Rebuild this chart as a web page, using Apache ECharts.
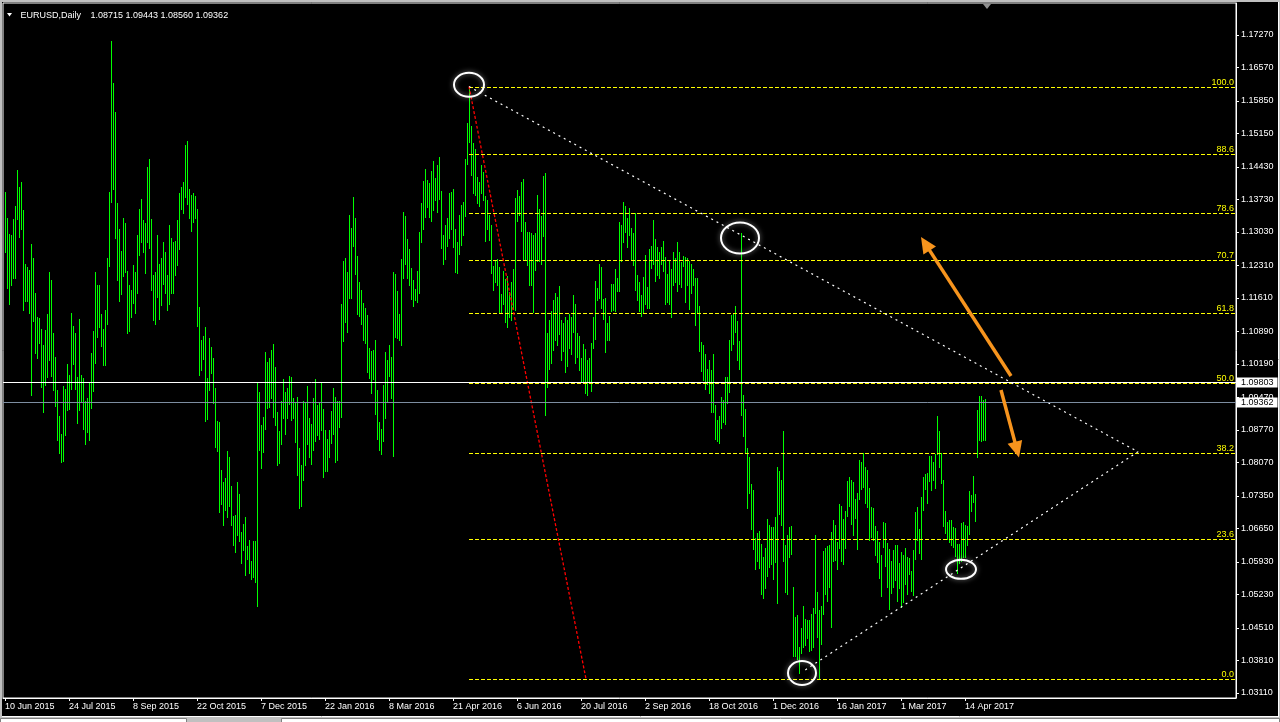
<!DOCTYPE html>
<html><head><meta charset="utf-8">
<script src="https://cdn.jsdelivr.net/npm/echarts@6/dist/echarts.min.js"></script>
<style>html,body{margin:0;padding:0;background:#000;overflow:hidden}#c{width:1280px;height:722px}</style>
</head><body><div id="c"></div>
<script>
// ---- chart values ----
const symbolTitle = 'EURUSD,Daily';
const lastOHLC = ['1.08715', '1.09443', '1.08560', '1.09362'];
const dateTickIdx = [0, 32, 64, 96, 128, 160, 192, 224, 256, 288, 320, 352, 384, 416, 448, 480];
const dateTickLabels = ['10 Jun 2015', '24 Jul 2015', '8 Sep 2015', '22 Oct 2015', '7 Dec 2015', '22 Jan 2016', '8 Mar 2016', '21 Apr 2016', '6 Jun 2016', '20 Jul 2016', '2 Sep 2016', '18 Oct 2016', '1 Dec 2016', '16 Jan 2017', '1 Mar 2017', '14 Apr 2017'];
const priceTicks = [1.17270, 1.16570, 1.15850, 1.15150, 1.14430, 1.13730, 1.13030, 1.12310, 1.11610, 1.10890, 1.10190, 1.09470, 1.08770, 1.08070, 1.07350, 1.06650, 1.05930, 1.05230, 1.04510, 1.03810, 1.03110];

const barHigh = [
1.1389,1.1333,1.1298,1.1296,1.1332,1.1359,1.1437,1.1399,1.1411,1.1350,
1.1235,1.1228,1.1221,1.1278,1.1246,1.1172,1.1121,1.1119,1.1095,1.1060,
1.1093,1.1126,1.1216,1.1199,1.1085,1.1035,1.0964,1.0908,1.0869,1.0971,
1.0966,1.1018,1.0996,1.1129,1.1100,1.1086,1.0991,1.1115,1.0996,1.0988,
1.0939,1.0945,1.0978,1.1042,1.1089,1.1216,1.1190,1.1190,1.1126,1.1095,
1.1136,1.1246,1.1390,1.1715,1.1624,1.1562,1.1366,1.1310,1.1263,1.1333,
1.1322,1.1219,1.1190,1.1179,1.1231,1.1218,1.1297,1.1352,1.1375,1.1329,
1.1322,1.1442,1.1461,1.1332,1.1210,1.1216,1.1297,1.1235,1.1248,1.1282,
1.1261,1.1210,1.1318,1.1291,1.1281,1.1284,1.1328,1.1388,1.1399,1.1411,
1.1491,1.1498,1.1396,1.1382,1.1388,1.1380,1.1353,1.1142,1.1070,1.1080,
1.1098,1.0988,1.1074,1.1056,1.1031,1.0968,1.0897,1.0895,1.0790,1.0764,
1.0773,1.0831,1.0818,1.0757,1.0692,1.0693,1.0764,1.0739,1.0657,1.0674,
1.0689,1.0627,1.0640,1.0594,1.0637,1.0637,1.0979,1.0958,1.0887,1.0904,
1.1044,1.1024,1.1032,1.1050,1.1062,1.1012,1.0915,1.0874,1.0940,1.0987,
1.0959,1.0968,1.0994,1.0992,1.0945,1.0938,1.0947,1.0839,1.0802,1.0940,
1.0935,1.0971,1.0903,1.0889,1.0945,1.0987,1.0930,1.0937,1.0977,1.0922,
1.0877,1.0858,1.0877,1.0918,1.0968,1.0949,1.0939,1.0939,1.1147,1.1240,
1.1246,1.1216,1.1340,1.1312,1.1378,1.1334,1.1251,1.1195,1.1178,1.1151,
1.1140,1.1125,1.1054,1.1047,1.1050,1.1070,1.0964,1.0895,1.0880,1.0973,
1.1044,1.1027,1.1059,1.1035,1.1218,1.1212,1.1177,1.1126,1.1244,1.1345,
1.1338,1.1287,1.1267,1.1225,1.1199,1.1180,1.1220,1.1304,1.1366,1.1413,
1.1439,1.1414,1.1408,1.1434,1.1455,1.1420,1.1448,1.1464,1.1392,1.1296,
1.1319,1.1334,1.1386,1.1390,1.1396,1.1310,1.1281,1.1339,1.1362,1.1368,
1.1460,1.1538,1.1616,1.1532,1.1495,1.1481,1.1422,1.1411,1.1448,1.1433,
1.1381,1.1372,1.1340,1.1317,1.1230,1.1241,1.1244,1.1228,1.1169,1.1219,
1.1202,1.1209,1.1174,1.1195,1.1223,1.1376,1.1393,1.1381,1.1410,1.1418,
1.1324,1.1304,1.1302,1.1301,1.1296,1.1300,1.1382,1.1352,1.1337,1.1423,
1.1429,1.1085,1.1113,1.1132,1.1156,1.1171,1.1163,1.1187,1.1114,1.1108,
1.1121,1.1114,1.1127,1.1120,1.1167,1.1149,1.1086,1.1080,1.1031,1.1061,
1.1052,1.1027,1.1031,1.1065,1.1121,1.1198,1.1183,1.1235,1.1228,1.1158,
1.1162,1.1107,1.1123,1.1192,1.1192,1.1223,1.1204,1.1324,1.1317,1.1368,
1.1359,1.1333,1.1355,1.1312,1.1301,1.1343,1.1210,1.1195,1.1167,1.1207,
1.1253,1.1184,1.1267,1.1272,1.1328,1.1287,1.1270,1.1261,1.1270,1.1284,
1.1250,1.1213,1.1240,1.1224,1.1259,1.1246,1.1281,1.1261,1.1238,1.1252,
1.1249,1.1246,1.1241,1.1235,1.1224,1.1204,1.1204,1.1143,1.1067,1.1059,
1.1040,1.1009,1.1027,1.1006,1.1040,1.0930,1.0899,1.0907,1.0947,1.0942,
1.0992,1.0990,1.1070,1.1124,1.1129,1.1143,1.1111,1.1068,1.1301,1.0952,
1.0922,1.0839,1.0818,1.0760,1.0747,1.0644,1.0656,1.0659,1.0631,1.0604,
1.0624,1.0686,1.0673,1.0669,1.0669,1.0689,1.0797,1.0789,1.0769,1.0875,
1.0630,1.0652,1.0668,1.0671,1.0538,1.0474,1.0478,1.0410,1.0450,1.0499,
1.0470,1.0468,1.0467,1.0482,1.0493,1.0652,1.0529,1.0490,1.0499,1.0617,
1.0624,1.0627,1.0629,1.0658,1.0684,1.0673,1.0636,1.0718,1.0714,1.0685,
1.0703,1.0768,1.0775,1.0770,1.0766,1.0728,1.0741,1.0812,1.0808,1.0828,
1.0798,1.0790,1.0753,1.0712,1.0710,1.0670,1.0659,1.0635,1.0609,1.0679,
1.0677,1.0633,1.0621,1.0596,1.0618,1.0629,1.0630,1.0591,1.0615,1.0609,
1.0623,1.0603,1.0602,1.0573,1.0618,1.0700,1.0712,1.0664,1.0733,1.0775,
1.0783,1.0784,1.0820,1.0820,1.0809,1.0825,1.0907,1.0874,1.0828,1.0770,
1.0703,1.0680,1.0683,1.0683,1.0669,1.0665,1.0631,1.0631,1.0676,1.0678,
1.0672,1.0671,1.0746,1.0737,1.0778,1.0739,1.0919,1.0951,1.0951,1.0942,
1.0944];

const barLow = [
1.1259,1.1182,1.1149,1.1189,1.1203,1.1205,1.1330,1.1292,1.1310,1.1135,
1.1154,1.1154,1.1129,1.0952,1.1111,1.1042,1.1032,1.1065,1.0969,1.0916,
1.0974,1.0990,1.1028,1.0993,1.0964,1.0929,1.0855,1.0827,1.0808,1.0810,
1.0867,1.0920,1.0923,1.0966,1.1020,1.0966,1.0892,1.0920,1.0939,1.0880,
1.0847,1.0873,1.0855,1.0924,1.0961,1.1022,1.1078,1.1098,1.1058,1.1017,
1.1017,1.1106,1.1229,1.1368,1.1396,1.1291,1.1200,1.1154,1.1170,1.1208,
1.1216,1.1086,1.1089,1.1120,1.1151,1.1129,1.1171,1.1254,1.1282,1.1259,
1.1214,1.1282,1.1268,1.1179,1.1114,1.1104,1.1163,1.1115,1.1145,1.1192,
1.1172,1.1135,1.1149,1.1172,1.1171,1.1210,1.1233,1.1267,1.1353,1.1344,
1.1379,1.1363,1.1334,1.1305,1.1324,1.1334,1.1101,1.0995,1.1005,1.1030,
1.0896,1.0901,1.0964,1.1000,1.0935,1.0841,1.0832,1.0700,1.0718,1.0672,
1.0705,1.0690,1.0714,1.0672,1.0629,1.0615,1.0652,1.0638,1.0591,1.0619,
1.0565,1.0600,1.0569,1.0557,1.0561,1.0550,1.0498,1.0834,1.0796,1.0830,
1.0880,1.0925,1.0927,1.0946,1.0904,1.0888,1.0802,1.0805,1.0847,1.0902,
1.0868,1.0903,1.0933,1.0898,1.0902,1.0851,1.0781,1.0709,1.0714,1.0769,
1.0802,1.0846,1.0819,1.0804,1.0834,1.0854,1.0867,1.0858,1.0877,1.0776,
1.0789,1.0789,1.0819,1.0849,1.0868,1.0809,1.0813,1.0883,1.0904,1.1068,
1.1109,1.1087,1.1161,1.1161,1.1273,1.1213,1.1127,1.1123,1.1105,1.1070,
1.1065,1.1002,1.0989,1.0957,1.0987,1.0911,1.0857,1.0834,1.0825,1.0853,
1.0903,1.0939,1.0993,1.0946,1.0822,1.1077,1.1075,1.1071,1.1059,1.1205,
1.1235,1.1204,1.1189,1.1158,1.1144,1.1156,1.1153,1.1171,1.1282,1.1310,
1.1336,1.1357,1.1335,1.1326,1.1350,1.1371,1.1346,1.1373,1.1268,1.1234,
1.1245,1.1273,1.1290,1.1310,1.1270,1.1218,1.1214,1.1255,1.1274,1.1296,
1.1338,1.1450,1.1496,1.1426,1.1387,1.1383,1.1365,1.1359,1.1387,1.1372,
1.1283,1.1310,1.1285,1.1214,1.1179,1.1195,1.1189,1.1131,1.1129,1.1149,
1.1110,1.1099,1.1121,1.1114,1.1137,1.1135,1.1326,1.1339,1.1305,1.1244,
1.1244,1.1232,1.1189,1.1189,1.1130,1.1222,1.1241,1.1241,1.1235,1.1294,
1.0909,1.0969,1.1009,1.1022,1.1049,1.1070,1.1059,1.1083,1.1028,1.1048,
1.1002,1.1014,1.1054,1.1040,1.1088,1.1022,1.1035,1.1006,1.0980,1.0981,
1.0956,1.0952,1.0981,1.0961,1.1053,1.1073,1.1157,1.1160,1.1139,1.1115,
1.1044,1.1070,1.1070,1.1133,1.1135,1.1132,1.1175,1.1175,1.1240,1.1282,
1.1304,1.1270,1.1296,1.1244,1.1231,1.1179,1.1156,1.1132,1.1122,1.1129,
1.1148,1.1139,1.1140,1.1226,1.1235,1.1198,1.1210,1.1203,1.1235,1.1219,
1.1149,1.1152,1.1149,1.1121,1.1189,1.1196,1.1177,1.1191,1.1184,1.1230,
1.1152,1.1189,1.1137,1.1172,1.1189,1.1102,1.1129,1.1048,1.1003,1.0984,
1.0965,1.0975,1.0956,1.0916,1.0916,1.0858,1.0853,1.0849,1.0882,1.0894,
1.0890,1.0935,1.0959,1.1049,1.1062,1.1087,1.1027,1.1008,1.0909,1.0863,
1.0827,1.0708,1.0742,1.0663,1.0620,1.0577,1.0596,1.0579,1.0523,1.0515,
1.0537,1.0563,1.0583,1.0588,1.0557,1.0592,1.0505,1.0696,1.0672,1.0595,
1.0529,1.0524,1.0603,1.0611,1.0390,1.0391,1.0384,1.0353,1.0398,1.0409,
1.0415,1.0430,1.0402,1.0404,1.0409,1.0484,1.0432,1.0342,1.0417,1.0482,
1.0523,1.0510,1.0538,1.0452,1.0594,1.0597,1.0578,1.0622,1.0596,1.0588,
1.0623,1.0691,1.0713,1.0675,1.0651,1.0687,1.0620,1.0729,1.0751,1.0755,
1.0720,1.0711,1.0641,1.0647,1.0641,1.0608,1.0593,1.0559,1.0520,1.0625,
1.0584,1.0538,1.0492,1.0526,1.0538,1.0555,1.0509,1.0536,1.0496,1.0507,
1.0545,1.0524,1.0566,1.0531,1.0522,1.0599,1.0641,1.0612,1.0600,1.0704,
1.0750,1.0719,1.0768,1.0748,1.0770,1.0753,1.0826,1.0797,1.0762,1.0671,
1.0655,1.0643,1.0635,1.0630,1.0626,1.0605,1.0570,1.0590,1.0596,1.0603,
1.0603,1.0630,1.0654,1.0702,1.0721,1.0681,1.0819,1.0855,1.0853,1.0856,
1.0856];

// drawing objects (bar index, price)
const fibHigh = 1.1616;
const fibLow = 1.0341;
const fibStart = [232, 1.1616];
const fibEnd = [290.5, 1.0341];
const fibLevels = [100, 88.6, 78.6, 70.7, 61.8, 50, 38.2, 23.6, 0];
const trianglePts = [[232, 1.1616], [566.5, 1.0830], [398.5, 1.0356]];
const ellipseCenters = [[232, 1.1620], [367.5, 1.1290], [398.5, 1.0354], [478, 1.0577]];
const arrowFrom = [[503, 1.0993], [498, 1.0963]];
const arrowTo = [[458, 1.1292], [507, 1.0818]];
const hLinePrices = [1.09803, 1.09362];

// ---- styles ----
const FONT = '"Liberation Sans", Arial, sans-serif';
const ellipseRadii = [[15, 12], [19, 15.5], [14, 12], [15, 9.5]];
const hLineColors = ['#ffffff', '#7d8da0'];
const BAR_COLOR = '#00ff00';
const ARROW_COLOR = '#f7941d';

const chart = echarts.init(document.getElementById('c'));

const option = {
  animation: false,
  backgroundColor: '#000',
  grid: { left: 3, right: 44, top: 3, bottom: 24, show: true, borderColor: '#ffffff', borderWidth: 1, backgroundColor: '#000' },
  xAxis: {
    type: 'value', min: -1, max: 615.5,
    axisLine: { show: true, onZero: false, lineStyle: { color: '#ffffff', width: 1 } },
    axisTick: { show: true, customValues: dateTickIdx, length: 3, lineStyle: { color: '#ffffff' } },
    axisLabel: { customValues: dateTickIdx, formatter: v => dateTickLabels[dateTickIdx.indexOf(v)] || '', color: '#ffffff', fontSize: 9, fontFamily: FONT, align: 'left', margin: 4 },
    splitLine: { show: false }
  },
  yAxis: {
    type: 'value', position: 'right', min: 1.03002, max: 1.17958,
    axisLine: { show: true, onZero: false, lineStyle: { color: '#ffffff', width: 1 } },
    axisTick: { show: true, customValues: priceTicks, length: 3, lineStyle: { color: '#ffffff' } },
    axisLabel: { customValues: priceTicks, formatter: v => v.toFixed(5), color: '#ffffff', fontSize: 9, fontFamily: FONT, margin: 5 },
    splitLine: { show: false }
  },
  series: [
    {
      type: 'custom', name: 'bars', silent: true, z: 2,
      data: barHigh.map((h, i) => [i, h, barLow[i]]),
      encode: { x: 0, y: [1, 2] },
      renderItem(params, api) {
        const i = api.value(0);
        const top = api.coord([i, api.value(1)]);
        const bot = api.coord([i, api.value(2)]);
        const x = Math.round(top[0]) + 0.5;
        return { type: 'line', shape: { x1: x, y1: Math.round(top[1]), x2: x, y2: Math.round(bot[1]) + 1 }, style: { stroke: BAR_COLOR, lineWidth: 1 } };
      }
    },
    {
      type: 'custom', name: 'fibo', silent: true, z: 4,
      data: fibLevels.map(l => [fibStart[0], fibLow + (fibHigh - fibLow) * l / 100, l]),
      encode: { x: 0, y: 1 },
      renderItem(params, api) {
        const p = api.coord([api.value(0), api.value(1)]);
        const right = params.coordSys.x + params.coordSys.width;
        const y = Math.round(p[1]) + 0.5;
        return { type: 'group', children: [
          { type: 'line', shape: { x1: Math.round(p[0]), y1: y, x2: right, y2: y }, style: { stroke: '#ffff00', lineWidth: 1, lineDash: [4, 2] } },
          { type: 'text', x: right - 2, y: y, style: { text: api.value(2).toFixed(1), fill: '#ffff00', font: '9px ' + FONT, align: 'right', verticalAlign: 'bottom' } }
        ] };
      }
    },
    {
      type: 'line', name: 'fiboTrend', silent: true, z: 5, symbol: 'none',
      data: [fibStart, fibEnd],
      lineStyle: { color: '#ff0000', width: 1.3, type: [3, 2] }
    },
    {
      type: 'line', name: 'triangle', silent: true, z: 5, symbol: 'none',
      data: trianglePts,
      lineStyle: { color: '#ffffff', width: 1.2, type: [2, 4] }
    },
    {
      type: 'custom', name: 'hlines', silent: true, z: 6,
      data: hLinePrices.map(p => [-1, p]),
      encode: { x: 0, y: 1 },
      renderItem(params, api) {
        const p = api.coord([api.value(0), api.value(1)]);
        const cs = params.coordSys;
        const y = Math.round(p[1]) + 0.5;
        return { type: 'group', children: [
          { type: 'line', shape: { x1: cs.x, y1: y, x2: cs.x + cs.width, y2: y }, style: { stroke: hLineColors[params.dataIndex], lineWidth: 1 } },
          { type: 'text', x: cs.x + cs.width + 1, y: y, style: { text: api.value(1).toFixed(5), fill: '#000', backgroundColor: '#ffffff', padding: [1, 4, 0, 4], font: '9px ' + FONT, align: 'left', verticalAlign: 'middle' } }
        ] };
      }
    },
    {
      type: 'custom', name: 'ellipses', silent: true, z: 7,
      data: ellipseCenters,
      encode: { x: 0, y: 1 },
      renderItem(params, api) {
        const c = api.coord([api.value(0), api.value(1)]);
        const r = ellipseRadii[params.dataIndex];
        const rx = r[0], ry = r[1];
        const d = 'M' + (c[0] - rx) + ' ' + c[1] + 'A' + rx + ' ' + ry + ' 0 1 0 ' + (c[0] + rx) + ' ' + c[1] + 'A' + rx + ' ' + ry + ' 0 1 0 ' + (c[0] - rx) + ' ' + c[1] + 'Z';
        return { type: 'path', shape: { pathData: d }, style: { fill: null, stroke: '#ffffff', lineWidth: 2, shadowBlur: 5, shadowColor: 'rgba(255,255,255,0.5)' } };
      }
    },
    {
      type: 'custom', name: 'arrows', silent: true, z: 8,
      data: arrowFrom.map((a, k) => [a[0], a[1], arrowTo[k][0], arrowTo[k][1]]),
      encode: { x: [0, 2], y: [1, 3] },
      renderItem(params, api) {
        const a = api.coord([api.value(0), api.value(1)]);
        const b = api.coord([api.value(2), api.value(3)]);
        const dx = b[0] - a[0], dy = b[1] - a[1];
        const L = Math.hypot(dx, dy), ux = dx / L, uy = dy / L;
        const hl = 16, hw = 7.5;
        const bx = b[0] - ux * hl, by = b[1] - uy * hl;
        return { type: 'group', children: [
          { type: 'line', shape: { x1: a[0], y1: a[1], x2: bx + ux * 2, y2: by + uy * 2 }, style: { stroke: ARROW_COLOR, lineWidth: 3.5 } },
          { type: 'polygon', shape: { points: [[b[0], b[1]], [bx - uy * hw, by + ux * hw], [bx + uy * hw, by - ux * hw]] }, style: { fill: ARROW_COLOR } }
        ] };
      }
    }
  ],
  graphic: [
    { type: 'rect', z: 100, shape: { x: 0, y: 0, width: 1280, height: 2 }, style: { fill: '#c0c0c0' } },
    { type: 'rect', z: 100, shape: { x: 0, y: 0, width: 2, height: 722 }, style: { fill: '#c0c0c0' } },
    { type: 'rect', z: 100, shape: { x: 1279, y: 0, width: 1, height: 722 }, style: { fill: '#c0c0c0' } },
    { type: 'rect', z: 100, shape: { x: 0, y: 717, width: 1280, height: 5 }, style: { fill: '#c0c0c0' } },
    { type: 'line', z: 100, shape: { x1: 1278.5, y1: 2, x2: 1278.5, y2: 717 }, style: { stroke: '#ffffff', lineWidth: 1 } },
    { type: 'line', z: 100, shape: { x1: 2, y1: 716.5, x2: 1279, y2: 716.5 }, style: { stroke: '#ffffff', lineWidth: 1 } },
    { type: 'rect', z: 100, shape: { x: 0.5, y: 718.5, width: 186, height: 6 }, style: { fill: '#ffffff', stroke: '#808080', lineWidth: 1 } },
    { type: 'rect', z: 100, shape: { x: 281.5, y: 718.5, width: 998, height: 6 }, style: { fill: '#ffffff', stroke: '#808080', lineWidth: 1 } },
    { type: 'polygon', z: 100, shape: { points: [[7, 13], [12, 13], [9.5, 16.5]] }, style: { fill: '#ffffff' } },
    { type: 'text', z: 100, x: 20.5, y: 16, style: { text: symbolTitle, fill: '#ffffff', font: '9px ' + FONT, verticalAlign: 'middle' } },
    { type: 'text', z: 100, x: 90.5, y: 16, style: { text: lastOHLC.join(' '), fill: '#ffffff', font: '9px ' + FONT, verticalAlign: 'middle' } },
    { type: 'polygon', z: 100, shape: { points: [[983, 4], [991, 4], [987, 9]] }, style: { fill: '#909090' } }
  ]
};
chart.setOption(option);
</script>
</body></html>
